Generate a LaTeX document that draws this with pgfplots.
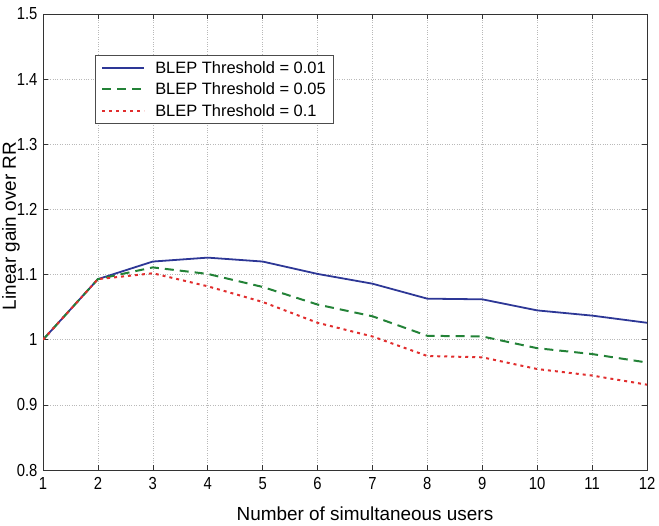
\documentclass[border=0pt]{standalone}
\usepackage{pgfplots}
\pgfplotsset{compat=1.18}
\usepackage{fontspec}
\setmainfont{Liberation Sans}
\newfontfamily\tickfont[FakeStretch=0.85]{Liberation Sans}
\definecolor{cblue}{RGB}{45,55,150}
\definecolor{cgreen}{RGB}{35,130,55}
\definecolor{cred}{RGB}{225,45,45}
\begin{document}
\begin{tikzpicture}[x=1bp,y=1bp]
\useasboundingbox (-43bp,-56bp) rectangle (616bp,470bp);
\begin{axis}[
  at={(0,0)}, anchor=south west,
  scale only axis, width=604bp, height=456bp,
  xmin=1, xmax=12, ymin=0.8, ymax=1.5,
  xtick={1,...,12}, ytick={0.8,0.9,...,1.5},
  yticklabels={0.8,0.9,1,1.1,1.2,1.3,1.4,1.5},
  /pgf/number format/assume math mode=true,
  tick label style={font=\tickfont\fontsize{17.5}{20}\selectfont},
  xticklabel style={yshift=-4bp},
  yticklabel style={xshift=-2bp},
  xlabel={Number of simultaneous users},
  ylabel={Linear gain over RR},
  every axis x label/.style={at={(axis description cs:0.533,-0.097)}, anchor=center, font=\fontsize{19}{22}\selectfont},
  every axis y label/.style={at={(axis description cs:-0.053,0.535)}, anchor=center, rotate=90, font=\fontsize{19}{22}\selectfont},
  grid=major,
  major grid style={dotted, gray!55, line width=0.6pt},
  tick align=inside, major tick length=5bp,
  tick style={black!80, line width=0.6pt},
  axis line style={black!80, line width=0.8pt},
  legend style={at={(0.086,0.91)}, anchor=north west, font=\fontsize{16.5}{19.5}\selectfont,
    draw=black!70, line width=0.7pt, row sep=4bp, inner xsep=6bp, inner ysep=4bp},
  legend image code/.code={\draw[#1] (0bp,0bp) -- (42bp,0bp); \path (50bp,0bp);},
  legend cell align=left,
]
\addplot[cblue, line width=1.8pt] coordinates {
(1,1.000) (2,1.093) (3,1.120) (4,1.126) (5,1.120) (6,1.101) (7,1.086) (8,1.063) (9,1.062) (10,1.045) (11,1.037) (12,1.026)};
\addlegendentry{BLEP Threshold = 0.01}
\addplot[cgreen, line width=2pt, dash pattern=on 9bp off 6bp] coordinates {
(1,1.000) (2,1.093) (3,1.111) (4,1.101) (5,1.081) (6,1.054) (7,1.036) (8,1.006) (9,1.005) (10,0.987) (11,0.978) (12,0.965)};
\addlegendentry{BLEP Threshold = 0.05}
\addplot[cred, line width=2pt, dash pattern=on 3bp off 4bp] coordinates {
(1,1.000) (2,1.093) (3,1.102) (4,1.082) (5,1.058) (6,1.026) (7,1.005) (8,0.975) (9,0.973) (10,0.955) (11,0.945) (12,0.931)};
\addlegendentry{BLEP Threshold = 0.1}
\end{axis}
\end{tikzpicture}
\end{document}
